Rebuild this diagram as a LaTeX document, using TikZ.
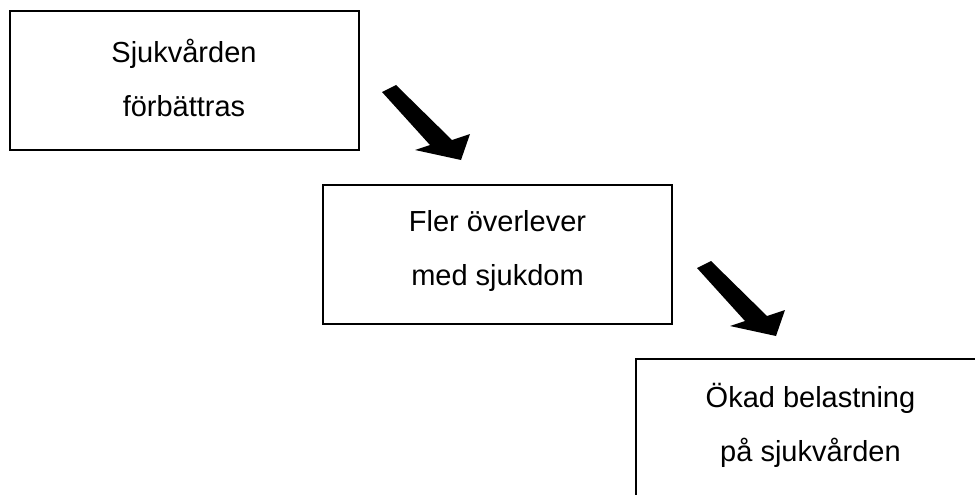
\documentclass[tikz,border=0pt]{standalone}
\usepackage{fontspec}
\setmainfont{Liberation Sans}
\begin{document}
\begin{tikzpicture}[x=1pt,y=-1pt,
  stepbox/.style={draw=black, line width=2pt, rectangle, minimum width=349pt,
    minimum height=139pt, inner sep=0pt},
  steptext/.style={inner sep=0pt, align=center,
    font=\fontsize{29}{54}\selectfont},
  fatarrow/.pic={
    \fill[black] (0,0) -- (48,53) -- (33,58) -- (79,68) -- (88,42)
      -- (70,48) -- (14,-7) -- cycle;
  }]
  \clip (0,0) rectangle (975,495);
  \fill[white] (0,0) rectangle (975,495);

  % the three steps of the chain
  \node[stepbox] (b1) at (184,80.5) {};
  \node[stepbox] (b2) at (497.5,254) {};
  \node[stepbox] (b3) at (810.5,428.5) {};
  \node[steptext] (t1) at ([yshift=3pt]b1.center) {Sjukvården\\förbättras};
  \node[steptext] (t2) at ([yshift=3pt]b2.center) {Fler överlever\\med sjukdom};
  \node[steptext] (t3) at ([yshift=3pt]b3.center) {Ökad belastning\\på sjukvården};

  % bold arrows leading from one step to the next
  \coordinate (a1) at (382,92);
  \coordinate (a2) at (697,268);
  \pic at (a1) {fatarrow};
  \pic at (a2) {fatarrow};
\end{tikzpicture}
\end{document}
